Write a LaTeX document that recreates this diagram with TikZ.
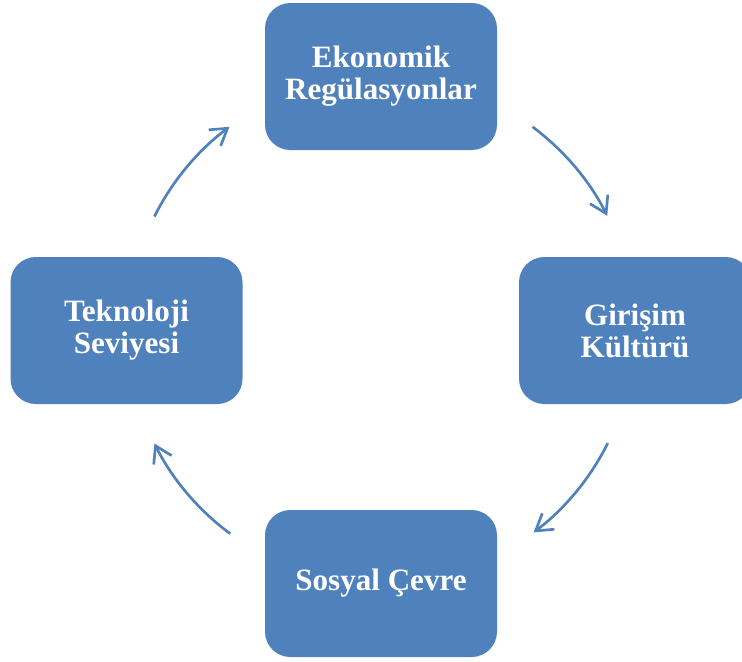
\documentclass[tikz,border=0pt]{standalone}
\usepackage{fontspec}
\setmainfont{Liberation Serif}
\usetikzlibrary{arrows.meta}
\definecolor{boxblue}{HTML}{4F81BD}
\begin{document}
\begin{tikzpicture}[x=0.75pt,y=-0.75pt,
  box/.style={draw=none, fill=boxblue, rounded corners=19pt, minimum width=174pt, minimum height=110.25pt,
    text=white, font=\fontsize{23.3}{24}\selectfont\bfseries, align=center, inner sep=0pt},
  cyc/.style={draw=boxblue, line width=2pt, -{Straight Barb[length=12pt,width=15pt,line width=2pt]}}]
\useasboundingbox (0,0) rectangle (742,661);
\clip (0,0) rectangle (742,661);
\node[box] (eko) at (381,76.5) {Ekonomik\\Regülasyonlar};
\node[box] (gir) at (635,330.5) {Girişim\\Kültürü};
\node[box] (sos) at (381,583.5) {Sosyal Çevre};
\node[box] (tek) at (126.5,330.5) {Teknoloji\\Seviyesi};
\coordinate (c) at (381,330);
\draw[cyc] ([shift={(53.3:190.1pt)}]c) arc[start angle=53.3, end angle=26.8, radius=190.1pt];
\draw[cyc] ([shift={(-26.5:190.1pt)}]c) arc[start angle=-26.5, end angle=-53, radius=190.1pt];
\draw[cyc] ([shift={(-126.5:190.1pt)}]c) arc[start angle=-126.5, end angle=-153.4, radius=190.1pt];
\draw[cyc] ([shift={(153.4:190.1pt)}]c) arc[start angle=153.4, end angle=126.7, radius=190.1pt];
\end{tikzpicture}
\end{document}
